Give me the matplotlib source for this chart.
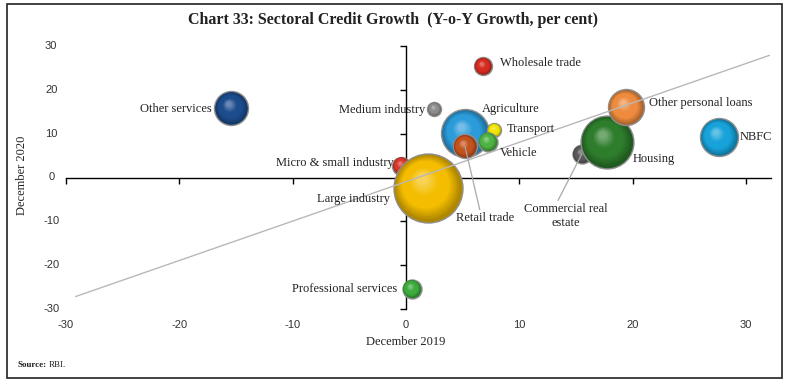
import matplotlib
matplotlib.use("Agg")
import matplotlib.pyplot as plt
import matplotlib.patches as mpatches
from matplotlib.transforms import offset_copy, blended_transform_factory
import matplotlib.colors as mcolors
import numpy as np

# ---------------- data ----------------
sectors = ["Micro & small industry", "Large industry", "Agriculture", "Transport", "Vehicle",
           "Retail trade", "Commercial real\nestate", "Housing", "Other personal loans", "NBFC",
           "Wholesale trade", "Other services", "Medium industry", "Professional services"]
growth_dec2019 = [-0.4, 1.9, 5.2, 7.8, 7.2, 5.2, 15.5, 17.7, 19.4, 27.6, 6.8, -15.4, 2.5, 0.5]
growth_dec2020 = [2.7, -2.3, 10.1, 10.8, 8.2, 7.1, 5.3, 8.2, 16.0, 9.2, 25.4, 15.8, 15.6, -25.4]
bubble_weight = [81, 1190, 576, 49, 90, 144, 90, 700, 324, 361, 81, 289, 49, 90]

trend_x = [-29.2, 32.1]
trend_y = [-27.2, 27.9]

x_ticks = [-30, -20, -10, 0, 10, 20, 30]
y_ticks = [-30, -20, -10, 0, 10, 20, 30]

# ---------------- styles ----------------
colors = ["#d8392b", "#f4bd00", "#2b9bd9", "#f0e400", "#4fb344",
          "#c4521c", "#5a5a5a", "#2d7d2c", "#ee8b3e", "#17a3da",
          "#d62b20", "#1c4c8c", "#8c8c8c", "#3dab3d"]
# label offsets in pixels (dx, dy), ha
label_pos = {
    "Micro & small industry": (-8, 3, "right"),
    "Large industry": (-38, -11, "right"),
    "Agriculture": (17, 24, "left"),
    "Transport": (12, 1, "left"),
    "Vehicle": (12, -11, "left"),
    "Retail trade": (-9, -72, "left"),
    "Commercial real\nestate": (-16, -62, "center"),
    "Housing": (26, -17, "left"),
    "Other personal loans": (23, 4, "left"),
    "NBFC": (21, 0, "left"),
    "Wholesale trade": (17, 3, "left"),
    "Other services": (-20, -1, "right"),
    "Medium industry": (-9, -1, "right"),
    "Professional services": (-14, 0, "right"),
}
leaders = {"Retail trade": (0.42, 1.0), "Commercial real\nestate": (0.39, 1.0)}

W, H, DPI = 785, 387, 100
fig = plt.figure(figsize=(W / DPI, H / DPI), dpi=DPI)
ax = fig.add_axes([66 / W, (H - 309) / H, 705 / W, (309 - 46) / H])
ax.set_xlim(-30, 32.2)
ax.set_ylim(-30, 30)

serif = ["Liberation Serif", "DejaVu Serif"]
sans = ["Liberation Sans", "DejaVu Sans"]

# spines through origin
for s in ["top", "right"]:
    ax.spines[s].set_visible(False)
ax.spines["left"].set_position(("data", 0))
ax.spines["bottom"].set_position(("data", 0))
ax.spines["left"].set_linewidth(1.0)
ax.spines["bottom"].set_linewidth(1.0)
ax.set_xticks(x_ticks)
ax.set_yticks(y_ticks)
ax.tick_params(axis="x", direction="out", length=4, width=1, labelbottom=False)
ax.tick_params(axis="y", direction="out", length=4, width=1, labelleft=False)

# tick labels at the plot edges
tx = blended_transform_factory(ax.transData, ax.transAxes)
ty = blended_transform_factory(ax.transAxes, ax.transData)
for v in x_ticks:
    ax.text(v, -0.06, f"{v}", transform=tx, ha="center", va="center", fontsize=8,
            family=sans, color="#333333", clip_on=False)
for v in y_ticks:
    ax.text(-0.021, v, f"{v}", transform=ty, ha="center", va="center", fontsize=8,
            family=sans, color="#333333", clip_on=False)

# trend line
ax.plot(trend_x, trend_y, color="#b8b8b8", lw=1.0, zorder=50, solid_capstyle="butt")


def px2pt(v):
    return v * 72 / DPI


# bubbles with shading
n_layers = 16
for i, name in enumerate(sectors):
    x, y = growth_dec2019[i], growth_dec2020[i]
    r_px = np.sqrt(bubble_weight[i])
    d_pt = px2pt(2 * r_px)
    base = np.array(mcolors.to_rgb(colors[i]))
    dark = base * 0.72
    ax.scatter([x], [y], s=d_pt ** 2, color=dark, edgecolors="#8f8f8f", linewidths=1.0,
               zorder=10 + i * 0.01)
    for k in range(1, n_layers):
        t = k / n_layers
        frac = 1 - 0.9 * t
        if t < 0.3:
            c = dark + (base - dark) * (t / 0.3)
        elif t < 0.6:
            c = base
        else:
            c = base + (np.ones(3) - base) * ((t - 0.6) / 0.4) * 0.4
        dx = -0.16 * r_px * t
        dy = 0.26 * r_px * t
        tr = offset_copy(ax.transData, fig=fig, x=px2pt(dx), y=px2pt(dy), units="points")
        ax.scatter([x], [y], s=(d_pt * frac * 0.97) ** 2, color=c, edgecolors="none",
                   transform=tr, zorder=10 + i * 0.01 + k * 0.0001)

# labels
for i, name in enumerate(sectors):
    dx, dy, ha = label_pos[name]
    x, y = growth_dec2019[i], growth_dec2020[i]
    kw = {}
    if name in leaders:
        kw["arrowprops"] = dict(arrowstyle="-", color="#a8a8a8", lw=0.9,
                                relpos=leaders[name], shrinkA=0, shrinkB=0)
    ax.annotate(name, xy=(x, y), xytext=(px2pt(dx), px2pt(dy)), textcoords="offset points",
                ha=ha, va="center", fontsize=9, family=serif, color="#222222",
                zorder=60, linespacing=1.2, **kw)

# axis titles
ax.text(0, -0.125, "December 2019", transform=tx, ha="center", va="center",
        fontsize=9, family=serif, color="#222222")
fig.text(22 / W, 1 - 175 / H, "December 2020", rotation=90, ha="center", va="center",
         fontsize=9, family=serif, color="#222222")

# title
fig.text(393 / W, 1 - 20 / H, "Chart 33: Sectoral Credit Growth  (Y-o-Y Growth, per cent)",
         ha="center", va="center", fontsize=11.5, family=serif, weight="bold", color="#222222")

# source
fig.text(18 / W, 1 - 365 / H, "Source:", ha="left", va="center", fontsize=6.5,
         family=serif, weight="bold", color="#222222")
fig.text(49 / W, 1 - 365 / H, "RBI.", ha="left", va="center", fontsize=6.5,
         family=serif, color="#222222")

# outer frame
fig.patches.append(mpatches.Rectangle((7 / W, (H - 378) / H), 775 / W, 374 / H,
                                      transform=fig.transFigure, fill=False,
                                      edgecolor="#222222", lw=1.2))

fig.savefig("out.png", dpi=DPI)
